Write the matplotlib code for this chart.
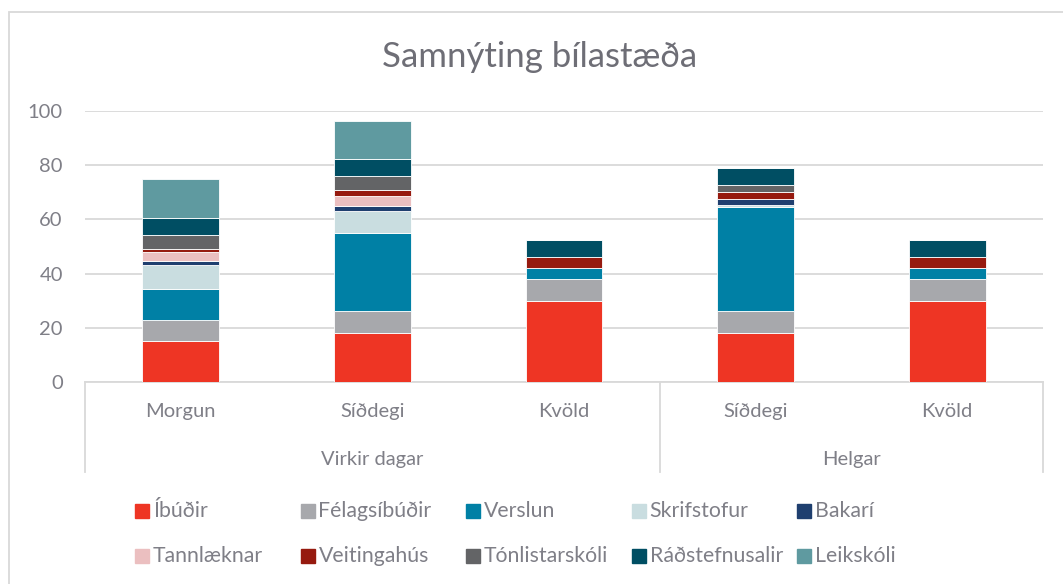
import numpy as np
import matplotlib.pyplot as plt
import matplotlib.patches as mpatches
import matplotlib.transforms as mtransforms

plt.rcParams['font.family'] = ['Lato', 'DejaVu Sans']

# undirflokkar og yfirflokkar á x-ás
flokkar = ['Morgun', 'Síðdegi', 'Kvöld', 'Síðdegi', 'Kvöld']
hopar = ['Virkir dagar', 'Helgar']
hopar_fjoldi = [3, 2]

# gagnaraðir (neðst til efst)
ibudir = [15, 18.2, 30, 18.2, 30]
felagsibudir = [8, 8, 8.1, 8, 8.1]
verslun = [11.5, 28.9, 4.1, 38.4, 4.1]
skrifstofur = [8.5, 8.1, 0, 0.7, 0]
bakari = [1.5, 1.7, 0, 2.2, 0]
tannlaeknar = [3.5, 3.7, 0, 0, 0]
veitingahus = [1.2, 2.2, 3.8, 2.6, 3.8]
tonlistarskoli = [5.2, 5.1, 0, 2.7, 0]
radstefnusalir = [6.1, 6.3, 6.4, 6.3, 6.4]
leikskoli = [14.3, 14.1, 0, 0, 0]

heiti = ['Íbúðir', 'Félagsíbúðir', 'Verslun', 'Skrifstofur', 'Bakarí',
         'Tannlæknar', 'Veitingahús', 'Tónlistarskóli', 'Ráðstefnusalir', 'Leikskóli']
gildi = [ibudir, felagsibudir, verslun, skrifstofur, bakari,
         tannlaeknar, veitingahus, tonlistarskoli, radstefnusalir, leikskoli]
litir = ['#ee3524', '#a7a8ac', '#0080a5', '#c9dde0', '#1f3f6f',
         '#ebbfc0', '#961a0f', '#636466', '#004e63', '#5f9aa0']

texti = '#7f7f87'
grid = '#d9d9d9'

fig = plt.figure(figsize=(10.63, 5.84), dpi=100)
ax = fig.add_axes([85 / 1063, 1 - 382 / 584, 958 / 1063, 271 / 584])

x = np.arange(len(flokkar))
botn = np.zeros(len(flokkar))
for nafn, g, lit in zip(heiti, gildi, litir):
    g = np.array(g, dtype=float)
    ax.bar(x, g, 0.4, bottom=botn, color=lit, edgecolor='white', linewidth=0.6, label=nafn, zorder=3)
    botn += g

ax.set_xlim(-0.5, len(flokkar) - 0.5)
ax.set_ylim(0, 100)
ax.set_yticks(range(0, 101, 20))
ax.yaxis.grid(True, color=grid, linewidth=1.3, zorder=0)
for s in ax.spines.values():
    s.set_visible(False)
ax.tick_params(axis='y', length=0, pad=16, labelsize=14.5, labelcolor=texti)
ax.tick_params(axis='x', length=0, pad=15, labelsize=14.5, labelcolor=texti)
ax.set_xticks(x)
ax.set_xticklabels(flokkar)

# tveggja hæða flokkaás
tr = mtransforms.blended_transform_factory(ax.transData, ax.transAxes)
nedst = -(472 - 382) / 271
ax.plot([-0.5, len(flokkar) - 0.5], [0, 0], transform=tr, color=grid, lw=1.3, clip_on=False)
start = -0.5
skil = [start]
for hopur, n in zip(hopar, hopar_fjoldi):
    ax.text(start + n / 2, -(460 - 382) / 271, hopur, transform=tr, ha='center', va='center',
            fontsize=14.5, color=texti)
    start += n
    skil.append(start)
for s in skil:
    ax.plot([s, s], [0, nedst], transform=tr, color=grid, lw=1.3, clip_on=False)

fig.text(540 / 1063, 1 - 57 / 584, 'Samnýting bílastæða', ha='center', va='center',
         fontsize=25, color='#6e6e76')

# skýringar í tveimur röðum
for i, (nafn, lit) in enumerate(zip(heiti, litir)):
    r, c = divmod(i, 5)
    x0 = (135 + 165.5 * c) / 1063
    y0 = 1 - (511 + 44.5 * r) / 584
    fig.patches.append(mpatches.Rectangle((x0, y0 - 7 / 584), 14 / 1063, 14 / 584,
                                          transform=fig.transFigure, color=lit))
    fig.text(x0 + 18 / 1063, y0, nafn, ha='left', va='center', fontsize=15.3, color=texti)

# rammi utan um myndina
fig.patches.append(mpatches.Rectangle((9 / 1063, -0.05), 1.1, 1 - 12 / 584 + 0.05,
                                      transform=fig.transFigure, fill=False,
                                      edgecolor=grid, linewidth=1.3))

fig.savefig('out.png', dpi=100)
